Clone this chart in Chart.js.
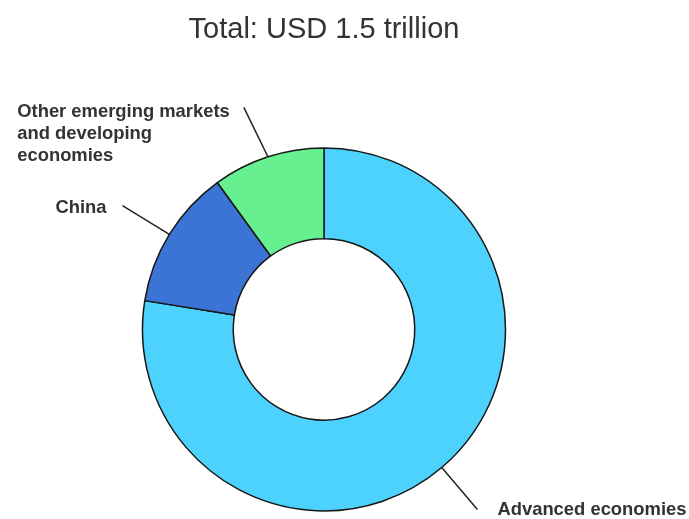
<!DOCTYPE html>
<html>
<head>
<meta charset="utf-8">
<script src="https://cdn.jsdelivr.net/npm/chart.js@4.4.1/dist/chart.umd.min.js"></script>
<style>
  html, body { margin: 0; padding: 0; background: #fff; }
</style>
</head>
<body>
<canvas id="doughnut-chart" width="689" height="519"></canvas>
<script>
// Split of the total, USD billion
const categories = [
  'Advanced economies',
  'China',
  ['Other emerging markets', 'and developing', 'economies']
];
const valuesBn = [1163, 187, 150];
const totalLabel = 'Total: USD 1.5 trillion';

const sliceColors = ['#4dd2fe', '#3b74d4', '#66f08f'];
const FONT = "'Liberation Sans', Arial, Helvetica, sans-serif";

// Labels placed outside the ring, tied to each slice with a short leader line
const outsideLabels = {
  id: 'outsideLabels',
  afterDatasetsDraw(chart, args, opts) {
    const ctx = chart.ctx;
    const meta = chart.getDatasetMeta(0);
    ctx.save();
    ctx.font = opts.font;
    ctx.fillStyle = opts.color;
    ctx.strokeStyle = opts.lineColor;
    ctx.lineWidth = opts.lineWidth;
    ctx.textBaseline = 'middle';
    ctx.textAlign = 'left';
    meta.data.forEach((arc, i) => {
      const p = arc.getProps(['x', 'y', 'startAngle', 'endAngle', 'outerRadius'], true);
      const cfg = opts.items[i] || {};
      const mid = (p.startAngle + p.endAngle) / 2;
      const out = mid + (cfg.tilt || 0) * Math.PI / 180;
      const x0 = p.x + Math.cos(mid) * p.outerRadius;
      const y0 = p.y + Math.sin(mid) * p.outerRadius;
      const x1 = x0 + Math.cos(out) * opts.length;
      const y1 = y0 + Math.sin(out) * opts.length;
      ctx.beginPath();
      ctx.moveTo(x0, y0);
      ctx.lineTo(x1, y1);
      ctx.stroke();

      const lines = [].concat(chart.data.labels[i]);
      const w = Math.max(...lines.map(t => ctx.measureText(t).width));
      const tx = Math.cos(out) >= 0 ? x1 + cfg.gap : x1 - cfg.gap - w;
      lines.forEach((t, k) => {
        ctx.fillText(t, tx, y1 + cfg.dy + k * opts.lineHeight);
      });
    });
    ctx.restore();
  }
};

new Chart(document.getElementById('doughnut-chart').getContext('2d'), {
  type: 'doughnut',
  data: {
    labels: categories,
    datasets: [{
      data: valuesBn,
      backgroundColor: sliceColors,
      borderColor: '#161616',
      borderWidth: 1.5
    }]
  },
  options: {
    responsive: false,
    animation: false,
    devicePixelRatio: 1,
    radius: 181.5,
    cutout: '50%',
    layout: { padding: { left: 130, right: 171, top: 0, bottom: 1 } },
    plugins: {
      legend: { display: false },
      tooltip: { enabled: false },
      title: {
        display: true,
        text: totalLabel,
        color: '#333333',
        font: { family: FONT, size: 29, weight: 'normal' },
        padding: { top: 13, bottom: 93 }
      },
      outsideLabels: {
        font: 'bold 18.4px ' + FONT,
        color: '#333333',
        lineColor: '#222222',
        lineWidth: 1.5,
        length: 55,
        lineHeight: 22,
        items: [
          { gap: 20, dy: 1 },
          { gap: 16, dy: 2 },
          { tilt: -8, gap: 14, dy: 5 }
        ]
      }
    }
  },
  plugins: [outsideLabels]
});
</script>
</body>
</html>
